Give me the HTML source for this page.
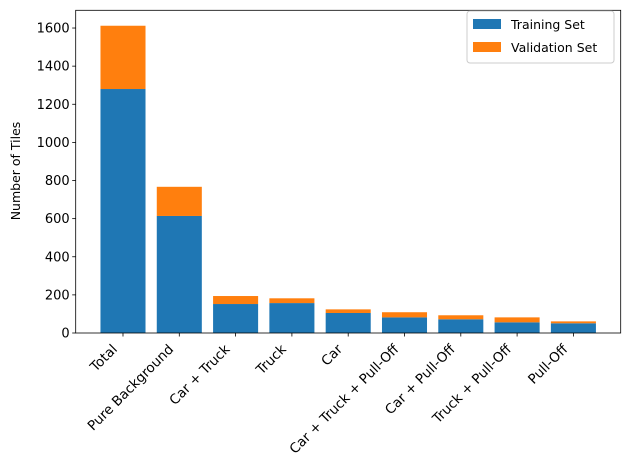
<!DOCTYPE html>
<html><head><meta charset="utf-8"><style>
body{margin:0;background:#fff;width:630px;height:470px;overflow:hidden;font-family:"Liberation Sans","DejaVu Sans",sans-serif}
</style></head><body>
<svg id="chart" width="630" height="470" xmlns="http://www.w3.org/2000/svg" font-family="DejaVu Sans, Liberation Sans, sans-serif" font-size="13">
<g id="bars"></g>
<g id="axes"></g>
<text transform="translate(20,171) rotate(-90)" text-anchor="middle" font-size="12.5">Number of Tiles</text>
<g>
<rect x="467" y="11" width="147" height="52" fill="#fff" stroke="#ccc" rx="3"/>
<g><rect x="473" y="19" width="28" height="10" fill="#1f77b4"/><text x="511" y="29" font-size="12.5">Training Set</text></g>
<g><rect x="473" y="42" width="28" height="10" fill="#ff7f0e"/><text x="511" y="52" font-size="12.5">Validation Set</text></g>
</g>
</svg>
<script>
const categories=["Total","Pure Background","Car + Truck","Truck","Car","Car + Truck + Pull-Off","Car + Pull-Off","Truck + Pull-Off","Pull-Off"];
const trainValues=[1280,614,152,157,105,82,72,56,51];
const valValues=[332,153,42,25,19,27,21,26,10];
const yTicks=[0,200,400,600,800,1000,1200,1400,1600];
const L=75.7,R=620.7,T=10.3,B=333;
const x0=-0.84,x1=8.84,yMax=1693;
const xs=i=>L+(i-x0)/(x1-x0)*(R-L);
const ys=v=>B-v/yMax*(B-T);
const bw=0.8*(R-L)/(x1-x0);
const NS="http://www.w3.org/2000/svg";
const bars=document.getElementById('bars'),axes=document.getElementById('axes');
function mk(tag,attrs,parent){const e=document.createElementNS(NS,tag);for(const k in attrs)e.setAttribute(k,attrs[k]);parent.appendChild(e);return e;}
categories.forEach((c,i)=>{
 const cx=xs(i);
 const b=mk('rect',{x:cx-bw/2,y:ys(trainValues[i]),width:bw,height:B-ys(trainValues[i]),fill:'#1f77b4'},bars);
 
 
 const tot=trainValues[i]+valValues[i];
 const v=mk('rect',{x:cx-bw/2,y:ys(tot),width:bw,height:ys(trainValues[i])-ys(tot),fill:'#ff7f0e'},bars);
 
 
 mk('line',{x1:cx,x2:cx,y1:B,y2:B+3.5,stroke:'#000','stroke-width':0.8},axes);
 const t=mk('text',{transform:`translate(${cx-5},${B+17}) rotate(-45)`,'text-anchor':'end','font-size':13.5},axes);
 t.textContent=c;
 
 
});
yTicks.forEach(v=>{
 const y=ys(v);
 mk('line',{x1:L-3.5,x2:L,y1:y,y2:y,stroke:'#000','stroke-width':0.8},axes);
 const t=mk('text',{x:L-6,y:y+4.5,'text-anchor':'end'},axes);
 t.textContent=v;
 
 
});
mk('rect',{x:L,y:T,width:R-L,height:B-T,fill:'none',stroke:'#000','stroke-width':0.8},axes);
</script>
</body></html>
